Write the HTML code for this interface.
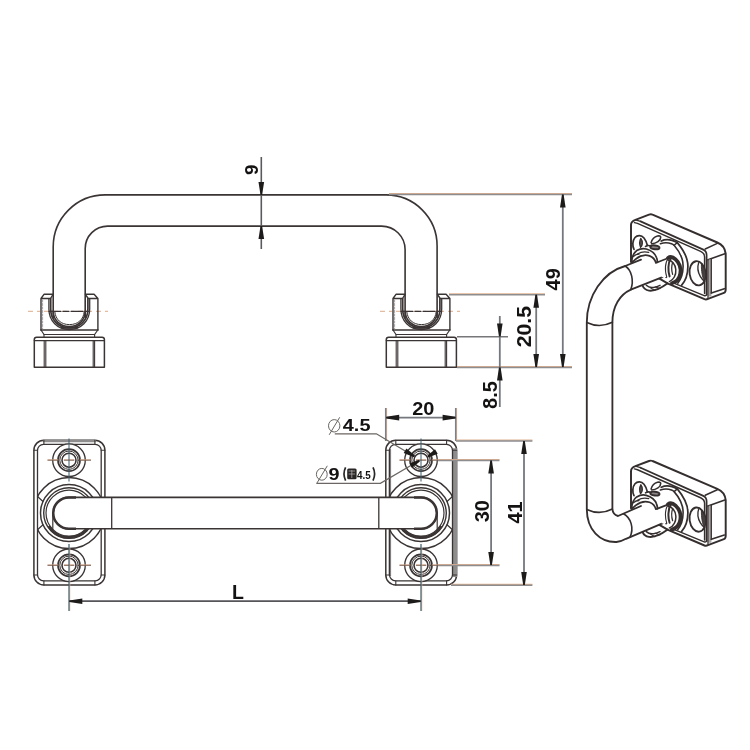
<!DOCTYPE html>
<html><head><meta charset="utf-8"><title>Handle drawing</title>
<style>
html,body{margin:0;padding:0;background:#fff;}
body{width:750px;height:750px;overflow:hidden;font-family:"Liberation Sans",sans-serif;}
svg{display:block;filter:blur(0.45px);}
</style></head><body>
<svg width="750" height="750" viewBox="0 0 750 750">
<rect width="750" height="750" fill="#ffffff"/>
<g id="front">
<path d="M53.2 318 V246.9 A52 52 0 0 1 105.2 194.9 H386.1 A51 51 0 0 1 437.1 245.9 V318 M85.2 318 V248.6 A22.5 22.5 0 0 1 107.7 226.1 H381.6 A23.5 23.5 0 0 1 405.1 249.6 V318" fill="none" stroke="#3b3434" stroke-width="1.6"/>
<line x1="28.0" y1="311.3" x2="111.0" y2="311.3" stroke="#d9a27e" stroke-width="0.9" stroke-dasharray="5 4 3 4 14 4"/><g transform="translate(0,0)" fill="none" stroke="#3b3434" stroke-width="1.5" stroke-linejoin="round" stroke-linecap="round"><path d="M34.3 367.3 V339.5 Q34.3 337.2 36.6 337.2 H102 Q104.4 337.2 104.4 339.5 V367.3 Z" fill="#fff"/><path d="M34.3 340.6 H104.4" stroke-width="1.3"/><path d="M44.2 340.6 V367 M45.8 340.6 V367 M93.2 340.6 V367 M94.6 340.6 V367" stroke-width="1.1"/><path d="M41 330 L44 334.5 H94.6 L97.8 330" stroke-width="1.2"/><path d="M44 334.5 V337 M94.6 334.5 V337" stroke-width="1.1"/><path d="M41 330 V298.5 L44 294.3 H53.1 L50.5 298.5 H41 M97.9 330 V298.5 L94.1 294.3 H85.4 L88.2 298.5 H97.9" fill="none" stroke-width="1.4"/><path d="M41 330 H97.9"/><path d="M42.6 300 V329" stroke-width="0.8" stroke="#8a8484" stroke-dasharray="2 1.5"/><path d="M48.9 299 V309 C48.9 321 57.5 329.6 69.3 329.6 C81 329.6 89.7 321 89.7 309 V299" stroke-width="1.3"/><path d="M50.7 298.5 V309 C50.7 320 58.5 327.9 69.3 327.9 C80 327.9 87.9 320 87.9 309 V298.5" stroke-width="1.7"/><path d="M53.2 311 C53.2 320 60 326.6 69.2 326.6 C78.6 326.6 85.2 320 85.2 311" stroke-width="1.6"/><path d="M54.8 311.8 C55.5 319.5 61 324.6 69.4 324.6 C78 324.6 83.6 319.5 84.2 311.8" stroke-width="1.0"/><path d="M62 327.6 H77" stroke-width="2.2"/><path d="M49 311.3 H89.6" stroke-width="1.3" stroke-dasharray="12 2 6 2"/></g>
<line x1="380.0" y1="311.3" x2="463.0" y2="311.3" stroke="#d9a27e" stroke-width="0.9" stroke-dasharray="5 4 3 4 14 4"/><g transform="translate(352,0)" fill="none" stroke="#3b3434" stroke-width="1.5" stroke-linejoin="round" stroke-linecap="round"><path d="M34.3 367.3 V339.5 Q34.3 337.2 36.6 337.2 H102 Q104.4 337.2 104.4 339.5 V367.3 Z" fill="#fff"/><path d="M34.3 340.6 H104.4" stroke-width="1.3"/><path d="M44.2 340.6 V367 M45.8 340.6 V367 M93.2 340.6 V367 M94.6 340.6 V367" stroke-width="1.1"/><path d="M41 330 L44 334.5 H94.6 L97.8 330" stroke-width="1.2"/><path d="M44 334.5 V337 M94.6 334.5 V337" stroke-width="1.1"/><path d="M41 330 V298.5 L44 294.3 H53.1 L50.5 298.5 H41 M97.9 330 V298.5 L94.1 294.3 H85.4 L88.2 298.5 H97.9" fill="none" stroke-width="1.4"/><path d="M41 330 H97.9"/><path d="M42.6 300 V329" stroke-width="0.8" stroke="#8a8484" stroke-dasharray="2 1.5"/><path d="M48.9 299 V309 C48.9 321 57.5 329.6 69.3 329.6 C81 329.6 89.7 321 89.7 309 V299" stroke-width="1.3"/><path d="M50.7 298.5 V309 C50.7 320 58.5 327.9 69.3 327.9 C80 327.9 87.9 320 87.9 309 V298.5" stroke-width="1.7"/><path d="M53.2 311 C53.2 320 60 326.6 69.2 326.6 C78.6 326.6 85.2 320 85.2 311" stroke-width="1.6"/><path d="M54.8 311.8 C55.5 319.5 61 324.6 69.4 324.6 C78 324.6 83.6 319.5 84.2 311.8" stroke-width="1.0"/><path d="M62 327.6 H77" stroke-width="2.2"/><path d="M49 311.3 H89.6" stroke-width="1.3" stroke-dasharray="12 2 6 2"/></g>
</g>
<line x1="261.3" y1="157.0" x2="261.3" y2="249.0" stroke="#5a5a5e" stroke-width="1.6" />
<polygon points="262.1,195.0 260.5,195.0 258.5,182.0 264.1,182.0" fill="#1d1a1a"/>
<polygon points="260.5,226.0 262.1,226.0 264.1,239.0 258.5,239.0" fill="#1d1a1a"/>
<text transform="translate(258.4,169.8) rotate(-90)" font-family="Liberation Sans, sans-serif" font-size="19" font-weight="bold" text-anchor="middle" fill="#151212" >9</text>
<line x1="389.0" y1="193.7" x2="572.0" y2="193.7" stroke="#e2b291" stroke-width="1.2" /><line x1="389.0" y1="194.6" x2="572.0" y2="194.6" stroke="#8d8d8f" stroke-width="1.5" />
<line x1="449.0" y1="293.9" x2="545.0" y2="293.9" stroke="#e2b291" stroke-width="1.2" /><line x1="449.0" y1="294.8" x2="545.0" y2="294.8" stroke="#8d8d8f" stroke-width="1.5" />
<line x1="457.0" y1="366.5" x2="572.0" y2="366.5" stroke="#e2b291" stroke-width="1.2" /><line x1="457.0" y1="367.4" x2="572.0" y2="367.4" stroke="#8d8d8f" stroke-width="1.5" />
<line x1="457.0" y1="336.8" x2="508.0" y2="336.8" stroke="#77777a" stroke-width="1.4" />
<line x1="562.8" y1="194.4" x2="562.8" y2="367.2" stroke="#74777c" stroke-width="1.8" />
<polygon points="562.0,194.6 563.6,194.6 565.6,207.6 560.0,207.6" fill="#1d1a1a"/>
<polygon points="563.6,367.0 562.0,367.0 560.0,354.0 565.6,354.0" fill="#1d1a1a"/>
<line x1="536.2" y1="294.6" x2="536.2" y2="367.2" stroke="#74777c" stroke-width="1.8" />
<polygon points="535.4,294.8 537.0,294.8 539.0,307.8 533.4,307.8" fill="#1d1a1a"/>
<polygon points="537.0,367.0 535.4,367.0 533.4,354.0 539.0,354.0" fill="#1d1a1a"/>
<line x1="499.8" y1="316.0" x2="499.8" y2="407.0" stroke="#74777c" stroke-width="1.8" />
<polygon points="500.6,336.6 499.0,336.6 497.0,323.6 502.6,323.6" fill="#1d1a1a"/>
<polygon points="499.0,367.4 500.6,367.4 502.6,380.4 497.0,380.4" fill="#1d1a1a"/>
<text transform="translate(559.8,279.3) rotate(-90)" font-family="Liberation Sans, sans-serif" font-size="20" font-weight="bold" text-anchor="middle" fill="#151212" >49</text>
<text transform="translate(530.7,326.6) rotate(-90) scale(1.060,1)" font-family="Liberation Sans, sans-serif" font-size="20" font-weight="bold" text-anchor="middle" fill="#151212" >20.5</text>
<text transform="translate(497.0,395.0) rotate(-90)" font-family="Liberation Sans, sans-serif" font-size="20" font-weight="bold" text-anchor="middle" fill="#151212" >8.5</text>
<g id="plan">
<g fill="none" stroke="#3b3434" stroke-width="1.5" stroke-linecap="round"><rect x="33.9" y="440.2" width="71.0" height="144.8" rx="10" ry="10" fill="#fff"/><path d="M42.9 441.1 H95.9" stroke-width="2.2" stroke="#8e8c8c" stroke-linecap="butt"/><rect x="37.5" y="444.4" width="63.7" height="136.4" rx="6" ry="6" stroke-width="1.3"/><path d="M43.9 440.2 v4.2 M33.9 450.2 h3.6" stroke-width="1.1"/><path d="M43.9 585.0 v-4.2 M33.9 575.0 h3.6" stroke-width="1.1"/><path d="M94.9 440.2 v4.2 M104.9 450.2 h-3.7" stroke-width="1.1"/><path d="M94.9 585.0 v-4.2 M104.9 575.0 h-3.7" stroke-width="1.1"/><clipPath id="cp69"><rect x="37.5" y="440.2" width="63.7" height="144.8"/></clipPath><g clip-path="url(#cp69)"><circle cx="69" cy="513.1" r="35.5"/></g><circle cx="69" cy="513.1" r="28.5"/><circle cx="69" cy="513.1" r="25.3" stroke-width="1.4"/><circle cx="69" cy="513.1" r="23" stroke-width="1.2"/><path d="M49.2 527.0 A24.2 24.2 0 0 0 90.0 525.2" stroke-width="2.6"/><path d="M43.0 501.5 L37.5 496.5" stroke-width="1.2"/><path d="M43.0 524.7 L37.5 529.7" stroke-width="1.2"/><path d="M52.8 513.1 V530.6" stroke-width="1.2"/><circle cx="69" cy="460.2" r="16.3" stroke-width="1.3" fill="#fff"/><circle cx="69" cy="460.2" r="11" stroke-width="1.7"/><circle cx="69" cy="460.2" r="9.2" stroke-width="1.0"/><circle cx="69" cy="460.2" r="7" stroke-width="1.6"/><circle cx="69" cy="565.3" r="16.3" stroke-width="1.3" fill="#fff"/><circle cx="69" cy="565.3" r="11" stroke-width="1.7"/><circle cx="69" cy="565.3" r="9.2" stroke-width="1.0"/><circle cx="69" cy="565.3" r="7" stroke-width="1.6"/></g>
<g fill="none" stroke="#3b3434" stroke-width="1.5" stroke-linecap="round"><rect x="385.8" y="440.2" width="70.8" height="144.8" rx="10" ry="10" fill="#fff"/><path d="M455.0 448.2 V577.0" stroke-width="4.2" stroke="#8e8c8c" stroke-linecap="butt"/><path d="M389.9 449.2 V576.0" stroke-width="2.4" stroke="#8e8c8c" stroke-linecap="butt"/><rect x="389.5" y="444.4" width="63.0" height="136.4" rx="6" ry="6" stroke-width="1.3"/><path d="M395.8 440.2 v4.2 M385.8 450.2 h3.7" stroke-width="1.1"/><path d="M395.8 585.0 v-4.2 M385.8 575.0 h3.7" stroke-width="1.1"/><path d="M446.6 440.2 v4.2 M456.6 450.2 h-4.1" stroke-width="1.1"/><path d="M446.6 585.0 v-4.2 M456.6 575.0 h-4.1" stroke-width="1.1"/><clipPath id="cp421"><rect x="389.5" y="440.2" width="63.0" height="144.8"/></clipPath><g clip-path="url(#cp421)"><circle cx="421" cy="513.1" r="35.5"/></g><circle cx="421" cy="513.1" r="28.5"/><circle cx="421" cy="513.1" r="25.3" stroke-width="1.4"/><circle cx="421" cy="513.1" r="23" stroke-width="1.2"/><path d="M440.8 527.0 A24.2 24.2 0 0 1 400.0 525.2" stroke-width="2.6"/><path d="M447.0 501.5 L452.5 496.5" stroke-width="1.2"/><path d="M447.0 524.7 L452.5 529.7" stroke-width="1.2"/><path d="M437.2 513.1 V530.6" stroke-width="1.2"/><circle cx="421" cy="460.2" r="16.3" stroke-width="1.3" fill="#fff"/><circle cx="421" cy="460.2" r="11" stroke-width="1.7"/><circle cx="421" cy="460.2" r="9.2" stroke-width="1.0"/><circle cx="421" cy="460.2" r="7" stroke-width="1.6"/><circle cx="421" cy="565.3" r="16.3" stroke-width="1.3" fill="#fff"/><circle cx="421" cy="565.3" r="11" stroke-width="1.7"/><circle cx="421" cy="565.3" r="9.2" stroke-width="1.0"/><circle cx="421" cy="565.3" r="7" stroke-width="1.6"/></g>
<path d="M245 497.4 H68.9 A15.7 15.7 0 0 0 68.9 528.8 H245 H421.1 A15.7 15.7 0 0 0 421.1 497.4 Z" fill="#fff" stroke="#3b3434" stroke-width="1.6"/>
<path d="M76 497.4 H68.9 A15.7 15.7 0 0 0 68.9 528.8 H76 M414 497.4 H421.1 A15.7 15.7 0 0 1 421.1 528.8 H414" fill="none" stroke="#3b3434" stroke-width="2.5"/>
<line x1="111.7" y1="497.4" x2="111.7" y2="528.8" stroke="#3b3434" stroke-width="1.3" />
<line x1="378.8" y1="497.4" x2="378.8" y2="528.8" stroke="#3b3434" stroke-width="1.3" />
</g>
<line x1="47.5" y1="459.8" x2="91.0" y2="459.8" stroke="#e9b594" stroke-width="0.9" stroke-dasharray="10.8 5.6 10.4 5.6 11.2 5"/><line x1="47.5" y1="460.2" x2="91.0" y2="460.2" stroke="#6e5548" stroke-width="0.9" stroke-dasharray="10.8 5.6 10.4 5.6 11.2 5"/><line x1="47.5" y1="564.9" x2="91.0" y2="564.9" stroke="#e9b594" stroke-width="0.9" stroke-dasharray="10.8 5.6 10.4 5.6 11.2 5"/><line x1="47.5" y1="565.3" x2="91.0" y2="565.3" stroke="#6e5548" stroke-width="0.9" stroke-dasharray="10.8 5.6 10.4 5.6 11.2 5"/><line x1="69.0" y1="438.5" x2="69.0" y2="481.5" stroke="#3f5a68" stroke-width="1.0" /><line x1="69.8" y1="548.0" x2="69.8" y2="611.0" stroke="#ecc0a2" stroke-width="0.9" /><line x1="69.0" y1="544.0" x2="69.0" y2="611.0" stroke="#3f5a68" stroke-width="1.2" />
<line x1="399.5" y1="459.8" x2="443.0" y2="459.8" stroke="#e9b594" stroke-width="0.9" stroke-dasharray="10.8 5.6 10.4 5.6 11.2 5"/><line x1="399.5" y1="460.2" x2="443.0" y2="460.2" stroke="#6e5548" stroke-width="0.9" stroke-dasharray="10.8 5.6 10.4 5.6 11.2 5"/><line x1="399.5" y1="564.9" x2="443.0" y2="564.9" stroke="#e9b594" stroke-width="0.9" stroke-dasharray="10.8 5.6 10.4 5.6 11.2 5"/><line x1="399.5" y1="565.3" x2="443.0" y2="565.3" stroke="#6e5548" stroke-width="0.9" stroke-dasharray="10.8 5.6 10.4 5.6 11.2 5"/><line x1="421.0" y1="438.5" x2="421.0" y2="481.5" stroke="#3f5a68" stroke-width="1.0" /><line x1="421.8" y1="548.0" x2="421.8" y2="611.0" stroke="#ecc0a2" stroke-width="0.9" /><line x1="421.0" y1="544.0" x2="421.0" y2="611.0" stroke="#3f5a68" stroke-width="1.2" />
<line x1="69.0" y1="601.2" x2="421.0" y2="601.2" stroke="#55555a" stroke-width="1.7" />
<polygon points="69.3,602.0 69.3,600.4 82.3,598.4 82.3,604.0" fill="#1d1a1a"/>
<polygon points="420.7,600.4 420.7,602.0 407.7,604.0 407.7,598.4" fill="#1d1a1a"/>
<text transform="translate(238.0,599.0)" font-family="Liberation Sans, sans-serif" font-size="19.5" font-weight="bold" text-anchor="middle" fill="#151212" >L</text>
<line x1="386.6" y1="408.0" x2="386.6" y2="441.0" stroke="#e2b291" stroke-width="1.0" /><line x1="385.7" y1="408.0" x2="385.7" y2="441.0" stroke="#7d8086" stroke-width="1.5" />
<line x1="456.6" y1="408.0" x2="456.6" y2="441.0" stroke="#e2b291" stroke-width="1.0" /><line x1="455.7" y1="408.0" x2="455.7" y2="441.0" stroke="#7d8086" stroke-width="1.5" />
<line x1="385.9" y1="417.6" x2="455.9" y2="417.6" stroke="#74777c" stroke-width="1.8" />
<polygon points="386.2,418.4 386.2,416.8 399.2,414.8 399.2,420.4" fill="#1d1a1a"/>
<polygon points="455.6,416.8 455.6,418.4 442.6,420.4 442.6,414.8" fill="#1d1a1a"/>
<text transform="translate(423.2,415.2) scale(1.060,1)" font-family="Liberation Sans, sans-serif" font-size="18.8" font-weight="bold" text-anchor="middle" fill="#151212" >20</text>
<line x1="456.0" y1="440.2" x2="532.4" y2="440.2" stroke="#e2b291" stroke-width="1.2" /><line x1="456.0" y1="441.1" x2="532.4" y2="441.1" stroke="#8d8d8f" stroke-width="1.5" />
<line x1="451.0" y1="584.4" x2="532.4" y2="584.4" stroke="#e2b291" stroke-width="1.2" /><line x1="451.0" y1="585.3" x2="532.4" y2="585.3" stroke="#8d8d8f" stroke-width="1.5" />
<line x1="438.0" y1="459.5" x2="499.5" y2="459.5" stroke="#e2b291" stroke-width="1.2" /><line x1="438.0" y1="460.4" x2="499.5" y2="460.4" stroke="#8d8d8f" stroke-width="1.5" />
<line x1="438.0" y1="564.6" x2="499.5" y2="564.6" stroke="#e2b291" stroke-width="1.2" /><line x1="438.0" y1="565.5" x2="499.5" y2="565.5" stroke="#8d8d8f" stroke-width="1.5" />
<line x1="524.0" y1="440.9" x2="524.0" y2="585.1" stroke="#74777c" stroke-width="1.8" />
<polygon points="523.2,441.1 524.8,441.1 526.8,454.1 521.2,454.1" fill="#1d1a1a"/>
<polygon points="524.8,584.9 523.2,584.9 521.2,571.9 526.8,571.9" fill="#1d1a1a"/>
<line x1="491.1" y1="460.2" x2="491.1" y2="565.3" stroke="#74777c" stroke-width="1.8" />
<polygon points="490.3,460.4 491.9,460.4 493.9,473.4 488.3,473.4" fill="#1d1a1a"/>
<polygon points="491.9,565.1 490.3,565.1 488.3,552.1 493.9,552.1" fill="#1d1a1a"/>
<text transform="translate(488.5,511.2) rotate(-90)" font-family="Liberation Sans, sans-serif" font-size="20" font-weight="bold" text-anchor="middle" fill="#151212" >30</text>
<text transform="translate(521.5,512.4) rotate(-90)" font-family="Liberation Sans, sans-serif" font-size="20" font-weight="bold" text-anchor="middle" fill="#151212" >41</text>
<path d="M334.8 433.8 H376.4 L406 451.5" fill="none" stroke="#6b6663" stroke-width="1.3"/>
<path d="M316.4 483.4 H380.4 L416 462.5" fill="none" stroke="#6b6663" stroke-width="1.3"/>
<polygon points="415.0,455.6 414.0,457.2 403.7,453.0 406.4,448.5" fill="#1d1a1a"/>
<polygon points="428.3,457.4 427.3,455.8 435.0,449.2 437.7,453.7" fill="#1d1a1a"/>
<polygon points="419.1,459.8 419.9,461.4 412.0,467.7 409.6,463.5" fill="#1d1a1a"/>
<g fill="none" stroke="#6a6662" stroke-width="1.0"><ellipse cx="334.2" cy="425.8" rx="5.7" ry="6.2"/><path d="M329.2 434.8 L339.7 417.3"/></g>
<text transform="translate(342.8,431.4) scale(1.170,1)" font-family="Liberation Sans, sans-serif" font-size="17" font-weight="bold" text-anchor="start" fill="#151212" >4.5</text>
<g fill="none" stroke="#6a6662" stroke-width="1.0"><ellipse cx="321.8" cy="474.3" rx="5.4" ry="5.9"/><path d="M316.8 483.3 L327.3 465.8"/></g>
<text transform="translate(328.6,480.2) scale(1.170,1)" font-family="Liberation Sans, sans-serif" font-size="17" font-weight="bold" text-anchor="start" fill="#151212" >9</text>
<g fill="none" stroke="#2a2626" stroke-width="1.7"><path d="M345.6 467.4 Q342.4 473.8 345.6 480.6"/><path d="M373.0 467.4 Q376.2 473.8 373.0 480.6"/></g>
<rect x="347.2" y="468.6" width="9.4" height="10.6" rx="1.5" fill="#2a2626"/>
<path d="M348.6 471 h6.5 M348.6 474 h6.5 M351.8 470 v8" stroke="#bbb" stroke-width="0.7"/>
<text transform="translate(357.0,479.2) scale(0.860,1)" font-family="Liberation Sans, sans-serif" font-size="11.5" font-weight="bold" text-anchor="start" fill="#151212" >4.5</text>
<g id="iso">
<g fill="none" stroke="#352e2e" stroke-width="1.72" stroke-linecap="round" stroke-linejoin="round"><path d="M631 262 L631 225 C631 222 633 220.6 635.4 219.8 L649 214.7 C650.5 214.1 651.5 214.2 652.5 214.7 L717.3 242.5 C721.5 244.2 725 247.5 725.7 253.7 L725.7 289.5 C725.7 291.5 725 292.5 723.9 292.9 L708 298.9 C706.5 299.6 705.5 299.6 704.5 299.2 L668 283.6 Z" fill="#fff" stroke-width="1.95"/><path d="M640.6 221.4 L703.3 249.6 C705.5 250.6 706.6 252.5 706.6 255 L706.6 294.7" stroke-width="1.72"/><path d="M634.5 222.6 L637.5 223.4 L700.6 251.4 C703.4 252.7 704.6 254.4 704.6 257 L704.6 293.6" stroke-width="1.49"/><path d="M635.4 219.8 L640.6 221.4" stroke-width="1.38"/><path d="M705.2 249 L717.3 243.4" stroke-width="1.49"/><path d="M708 259.7 L724.8 253.7" stroke-width="1.61"/><path d="M709.9 259.4 V296.5" stroke-width="2.99" stroke="#a8a5a5" stroke-linecap="butt"/><path d="M708 259.7 V298" stroke-width="1.26"/><path d="M711.3 258.8 V293" stroke-width="1.26"/><path d="M711.3 293 L724.3 288.7" stroke-width="1.61"/><path d="M672 282.4 L704.2 295.6 C705.4 296 706.2 295.6 706.6 294.7" stroke-width="1.38"/><ellipse cx="697.6" cy="273.3" rx="8" ry="12.2" transform="rotate(-8 697.6 273.3)" stroke-width="1.84" fill="#fff"/><path d="M698.7 262.6 C697.2 267 698 272.5 700.4 276.6 C701.6 278.6 703 280.2 704.7 281.4" stroke-width="1.38"/><path d="M701.4 264.6 C704.6 267 706 271 705.7 275.6 C705.5 278 705 279.8 704.2 280.8 C702.4 277.5 701.2 271 701.4 264.6 Z" fill="#453f3f" stroke-width="0.92"/><path d="M661.3 241 C664 239.6 668 239.2 672 240.3 C674.5 241 676 241.8 677.3 242.6 C683.5 250 688 258 687.9 266.5 C687.8 275 685.5 281 681.5 285.3" stroke-width="1.72"/><path d="M660.4 243.7 C664 242.4 668.5 242.6 671.5 243.8 C672.8 244.3 673.5 244.8 674.1 245.3 C680 252 683.3 259 683.1 266.5 C683 274 681 279.5 677.8 283.1" stroke-width="1.61"/><path d="M674.1 245.3 L677.3 242.6" stroke-width="1.38"/><path d="M634 249.4 C632.2 246 632.4 240.5 635 237.5 C637.5 234.6 641.5 235 644 238 C645.6 240 646.6 242.5 647.3 245.3" stroke-width="1.72"/><path d="M640.8 238.4 C639.4 241 639.4 244.5 640.6 247.4 C642.6 245.5 643.2 241.6 640.8 238.4 Z" fill="#5a5454" stroke-width="1.26"/><path d="M651.1 242.6 C652 239.5 654.5 236.8 657.5 236 C659.3 235.6 660.7 236 660.7 237.2 C660.7 239 659.5 240.6 658 241.6 C656 242.9 653.6 243.6 651.7 243.7" stroke-width="1.61"/><ellipse cx="654.9" cy="247.3" rx="4.6" ry="1.9" transform="rotate(6 654.9 247.3)" fill="#8a8484" stroke-width="1.95"/><path d="M645.5 246.5 C647.5 245.2 649.6 245.4 651 246.4" stroke-width="1.61"/><path d="M668 258 C670 256.5 673 257 675.6 259.4 C679.5 263 681.2 268 680.3 273.5 C679.5 278.5 676 282 671.9 283.3" stroke-width="3.79"/><path d="M668.5 260.3 C672 260.5 675.3 264 675.8 269.5 C676.3 275 673.5 280 669.4 281.6" stroke-width="1.49"/><path d="M667.7 258.3 C664.6 262 664 270 666.2 277" stroke-width="2.2"/><path d="M670.6 258.8 C668 263 667.8 271 669.6 276.4" stroke-width="2.0"/><path d="M672.6 262.5 C671.4 266 671.6 271 672.6 274.4" stroke-width="1.26"/><path d="M662.3 261.5 C660.4 266 660.6 272 662.4 277" stroke-width="1.95"/><path d="M642.6 285.8 C643.5 288.2 645.5 290 649 290.6 C654 291.3 660 289 667.7 283.3" stroke-width="1.84"/><path d="M646.3 285.3 C648 287 650.5 287.8 653.5 287.4 C656 287 658 286.4 660 285.4" stroke-width="1.49"/><path d="M650 287.6 L655 290.5 M655.5 287 L660 288.6" stroke-width="1.03"/></g>
<g transform="translate(0,246.3)"><g fill="none" stroke="#352e2e" stroke-width="1.72" stroke-linecap="round" stroke-linejoin="round"><path d="M631 262 L631 225 C631 222 633 220.6 635.4 219.8 L649 214.7 C650.5 214.1 651.5 214.2 652.5 214.7 L717.3 242.5 C721.5 244.2 725 247.5 725.7 253.7 L725.7 289.5 C725.7 291.5 725 292.5 723.9 292.9 L708 298.9 C706.5 299.6 705.5 299.6 704.5 299.2 L668 283.6 Z" fill="#fff" stroke-width="1.95"/><path d="M640.6 221.4 L703.3 249.6 C705.5 250.6 706.6 252.5 706.6 255 L706.6 294.7" stroke-width="1.72"/><path d="M634.5 222.6 L637.5 223.4 L700.6 251.4 C703.4 252.7 704.6 254.4 704.6 257 L704.6 293.6" stroke-width="1.49"/><path d="M635.4 219.8 L640.6 221.4" stroke-width="1.38"/><path d="M705.2 249 L717.3 243.4" stroke-width="1.49"/><path d="M708 259.7 L724.8 253.7" stroke-width="1.61"/><path d="M709.9 259.4 V296.5" stroke-width="2.99" stroke="#a8a5a5" stroke-linecap="butt"/><path d="M708 259.7 V298" stroke-width="1.26"/><path d="M711.3 258.8 V293" stroke-width="1.26"/><path d="M711.3 293 L724.3 288.7" stroke-width="1.61"/><path d="M672 282.4 L704.2 295.6 C705.4 296 706.2 295.6 706.6 294.7" stroke-width="1.38"/><ellipse cx="697.6" cy="273.3" rx="8" ry="12.2" transform="rotate(-8 697.6 273.3)" stroke-width="1.84" fill="#fff"/><path d="M698.7 262.6 C697.2 267 698 272.5 700.4 276.6 C701.6 278.6 703 280.2 704.7 281.4" stroke-width="1.38"/><path d="M701.4 264.6 C704.6 267 706 271 705.7 275.6 C705.5 278 705 279.8 704.2 280.8 C702.4 277.5 701.2 271 701.4 264.6 Z" fill="#453f3f" stroke-width="0.92"/><path d="M661.3 241 C664 239.6 668 239.2 672 240.3 C674.5 241 676 241.8 677.3 242.6 C683.5 250 688 258 687.9 266.5 C687.8 275 685.5 281 681.5 285.3" stroke-width="1.72"/><path d="M660.4 243.7 C664 242.4 668.5 242.6 671.5 243.8 C672.8 244.3 673.5 244.8 674.1 245.3 C680 252 683.3 259 683.1 266.5 C683 274 681 279.5 677.8 283.1" stroke-width="1.61"/><path d="M674.1 245.3 L677.3 242.6" stroke-width="1.38"/><path d="M634 249.4 C632.2 246 632.4 240.5 635 237.5 C637.5 234.6 641.5 235 644 238 C645.6 240 646.6 242.5 647.3 245.3" stroke-width="1.72"/><path d="M640.8 238.4 C639.4 241 639.4 244.5 640.6 247.4 C642.6 245.5 643.2 241.6 640.8 238.4 Z" fill="#5a5454" stroke-width="1.26"/><path d="M651.1 242.6 C652 239.5 654.5 236.8 657.5 236 C659.3 235.6 660.7 236 660.7 237.2 C660.7 239 659.5 240.6 658 241.6 C656 242.9 653.6 243.6 651.7 243.7" stroke-width="1.61"/><ellipse cx="654.9" cy="247.3" rx="4.6" ry="1.9" transform="rotate(6 654.9 247.3)" fill="#8a8484" stroke-width="1.95"/><path d="M645.5 246.5 C647.5 245.2 649.6 245.4 651 246.4" stroke-width="1.61"/><path d="M668 258 C670 256.5 673 257 675.6 259.4 C679.5 263 681.2 268 680.3 273.5 C679.5 278.5 676 282 671.9 283.3" stroke-width="3.79"/><path d="M668.5 260.3 C672 260.5 675.3 264 675.8 269.5 C676.3 275 673.5 280 669.4 281.6" stroke-width="1.49"/><path d="M667.7 258.3 C664.6 262 664 270 666.2 277" stroke-width="2.2"/><path d="M670.6 258.8 C668 263 667.8 271 669.6 276.4" stroke-width="2.0"/><path d="M672.6 262.5 C671.4 266 671.6 271 672.6 274.4" stroke-width="1.26"/><path d="M662.3 261.5 C660.4 266 660.6 272 662.4 277" stroke-width="1.95"/><path d="M642.6 285.8 C643.5 288.2 645.5 290 649 290.6 C654 291.3 660 289 667.7 283.3" stroke-width="1.84"/><path d="M646.3 285.3 C648 287 650.5 287.8 653.5 287.4 C656 287 658 286.4 660 285.4" stroke-width="1.49"/><path d="M650 287.6 L655 290.5 M655.5 287 L660 288.6" stroke-width="1.03"/></g></g>
<path d="M625.2 266 L641 259.7 L657.5 262.3 L661.8 277.3 L630.8 289.6 C620 294.5 612.4 306 612.4 322.5 L612.4 509 C612.6 512 614.5 515 618 516 L641 506 L657.5 508.6 L661.8 523.6 L626 538.8 C623 540.5 620 541.8 616.4 542 C600 542.5 587 530 586.8 509.5 L586.8 322.5 C586.8 296 603 272 625.2 266 Z" fill="#fff" stroke="none"/>
<g fill="none" stroke="#352e2e" stroke-width="1.84" stroke-linecap="round" stroke-linejoin="round">
<path d="M641 259.7 L625.2 266 C603 272 586.8 296 586.8 322.5 L586.8 509.5 C587 530 600 542.5 616.4 542 C620 541.8 623 540.5 626 538.8 L661.8 523.6"/>
<path d="M661.8 277.3 L630.8 289.6 C620 294.5 612.4 306 612.4 322.5 L612.4 509 C612.6 512 614.5 515 618 516 L641 506"/>
<path d="M586.8 322.5 Q599.5 328.6 612.4 322.3" stroke-width="1.61"/>
<path d="M625.2 266 C631.5 270 634.2 280.5 630.8 289.6" stroke-width="1.61"/>
<path d="M586.8 509.5 Q599.5 515.6 612.4 509" stroke-width="1.61"/>
<path d="M623.6 513.8 C631 518 634.2 528 630 537.2" stroke-width="1.61"/>
</g>
<g fill="none" stroke="#352e2e" stroke-width="1.72" stroke-linecap="round" stroke-linejoin="round"><path d="M657.5 262.3 L667.7 258.3 C664.6 262 664 270 666.2 277 L661.8 277.3 C659 273 658 267 657.5 262.3 Z" fill="#fff" stroke="none"/><path d="M657.5 262.3 L667.7 258.3" stroke-width="1.72"/><path d="M631.6 262 C632 257 633.5 253 636.7 250.6 C640 248.6 643.5 248.2 646.3 249 C651 250.4 655 253.5 656.5 257.5 C657.2 259 657.4 260.5 657.5 262.3 L655.9 262.9 C655 259.5 652.6 257 649.5 255.9 C645 254.4 640 255.6 635.7 259.1 L633.2 261.4 Z" fill="#fff" stroke-width="1.75"/><path d="M637.5 254 C641 251.8 645 251.4 648.8 252.4" stroke-width="1.2"/><path d="M633.4 256.4 C635.5 254.6 637 254.2 639 254.2" stroke-width="1.26"/></g>
<g transform="translate(0,246.3)"><g fill="none" stroke="#352e2e" stroke-width="1.72" stroke-linecap="round" stroke-linejoin="round"><path d="M657.5 262.3 L667.7 258.3 C664.6 262 664 270 666.2 277 L661.8 277.3 C659 273 658 267 657.5 262.3 Z" fill="#fff" stroke="none"/><path d="M657.5 262.3 L667.7 258.3" stroke-width="1.72"/><path d="M631.6 262 C632 257 633.5 253 636.7 250.6 C640 248.6 643.5 248.2 646.3 249 C651 250.4 655 253.5 656.5 257.5 C657.2 259 657.4 260.5 657.5 262.3 L655.9 262.9 C655 259.5 652.6 257 649.5 255.9 C645 254.4 640 255.6 635.7 259.1 L633.2 261.4 Z" fill="#fff" stroke-width="1.75"/><path d="M637.5 254 C641 251.8 645 251.4 648.8 252.4" stroke-width="1.2"/><path d="M633.4 256.4 C635.5 254.6 637 254.2 639 254.2" stroke-width="1.26"/></g></g>
</g>
</svg>
</body></html>
